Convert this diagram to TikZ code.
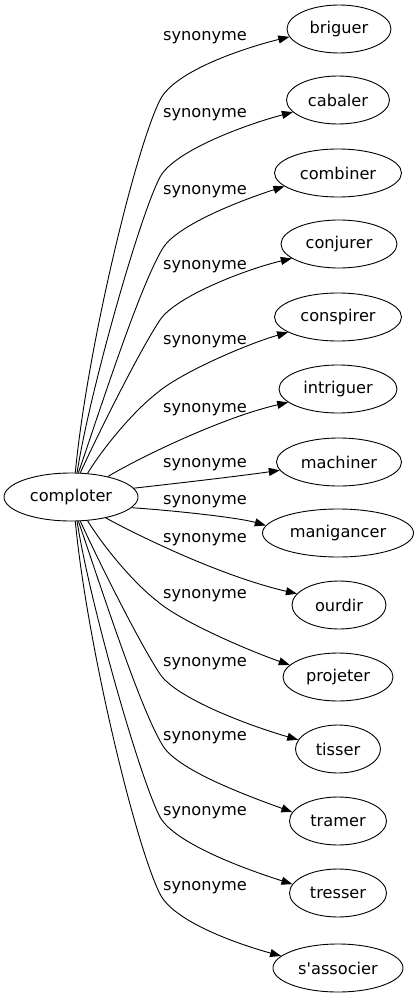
\documentclass[tikz,border=0pt]{standalone}
\usepackage{fontspec}
\setmainfont{DejaVu Sans}
\usetikzlibrary{shapes.geometric,arrows.meta}
\tikzset{
  word/.style={ellipse, draw, line width=0.9pt, inner sep=0pt, minimum height=48pt,
    font=\fontsize{16.2}{19}\selectfont},
  lbl/.style={inner sep=0pt, font=\fontsize{16.2}{19}\selectfont},
  edge/.style={line width=0.9pt, -{Triangle[length=11pt,width=8pt]}}
}
\begin{document}
\begin{tikzpicture}[x=1pt,y=-1pt]
\useasboundingbox (0,0) rectangle (419,995);
% nodes
\node[word, minimum width=134pt] (comploter) at (71,497) {comploter};
\node[word, minimum width=104pt] (briguer) at (339,29) {briguer};
\node[word, minimum width=103pt] (cabaler) at (338,100) {cabaler};
\node[word, minimum width=127pt] (combiner) at (338,173) {combiner};
\node[word, minimum width=116pt] (conjurer) at (339,244) {conjurer};
\node[word, minimum width=127pt] (conspirer) at (338,317) {conspirer};
\node[word, minimum width=118pt] (intriguer) at (338,389) {intriguer};
\node[word, minimum width=125pt] (machiner) at (339,462) {machiner};
\node[word, minimum width=151pt] (manigancer) at (338,533) {manigancer};
\node[word, minimum width=94pt] (ourdir) at (339,605) {ourdir};
\node[word, minimum width=110pt] (projeter) at (338,677) {projeter};
\node[word, minimum width=85pt] (tisser) at (338,749) {tisser};
\node[word, minimum width=97pt] (tramer) at (338,821) {tramer};
\node[word, minimum width=97pt] (tresser) at (338,893) {tresser};
\node[word, minimum width=130pt] (sassocier) at (338,968) {s\textquotesingle associer};
% labels
\node[lbl] (l1) at (205,38) {synonyme};
\node[lbl] (l2) at (205,115) {synonyme};
\node[lbl] (l3) at (205,192) {synonyme};
\node[lbl] (l4) at (205,267) {synonyme};
\node[lbl] (l5) at (205,342) {synonyme};
\node[lbl] (l6) at (205,410) {synonyme};
\node[lbl] (l7) at (205,465) {synonyme};
\node[lbl] (l8) at (205,502) {synonyme};
\node[lbl] (l9) at (205,540) {synonyme};
\node[lbl] (l10) at (205,596) {synonyme};
\node[lbl] (l11) at (205,664) {synonyme};
\node[lbl] (l12) at (205,738) {synonyme};
\node[lbl] (l13) at (205,813) {synonyme};
\node[lbl] (l14) at (205,888) {synonyme};
% edges (top)
\draw[edge] (comploter.80) .. controls (87,350) and (135,150) .. (160,100) .. controls (175,70) and (248,47) .. (briguer.189);
\draw[edge] (comploter.76) .. controls (90,390) and (140,215) .. (160,177) .. controls (175,150) and (248,124) .. (cabaler.195);
\draw[edge] (comploter.73) .. controls (100,410) and (140,285) .. (163,248) .. controls (178,224) and (245,199) .. (combiner.194);
\draw[edge] (comploter.69) .. controls (100,430) and (140,350) .. (160,320) .. controls (176,296) and (247,269) .. (conjurer.197);
\draw[edge] (comploter.55) .. controls (105,445) and (135,410) .. (157,393) .. controls (180,373) and (247,344) .. (conspirer.197);
\draw[edge] (comploter.29) .. controls (135,460) and (220,418) .. (intriguer.195);
\draw[edge] (comploter.8) .. controls (180,483) and (240,476) .. (machiner.188);
% edges (bottom)
\draw[edge] (comploter.-10) .. controls (180,511) and (240,518) .. (manigancer.174);
\draw[edge] (comploter.-31) .. controls (135,534) and (220,576) .. (ourdir.165);
\draw[edge] (comploter.-55) .. controls (105,549) and (135,584) .. (157,601) .. controls (180,621) and (247,650) .. (projeter.166);
\draw[edge] (comploter.-69) .. controls (100,564) and (140,644) .. (160,674) .. controls (176,698) and (247,725) .. (tisser.167);
\draw[edge] (comploter.-73) .. controls (100,584) and (140,709) .. (163,746) .. controls (178,770) and (245,795) .. (tramer.169);
\draw[edge] (comploter.-76) .. controls (90,604) and (140,779) .. (160,817) .. controls (175,844) and (248,870) .. (tresser.169);
\draw[edge] (comploter.-80) .. controls (87,644) and (135,844) .. (160,894) .. controls (175,924) and (248,947) .. (sassocier.168);
\end{tikzpicture}
\end{document}
